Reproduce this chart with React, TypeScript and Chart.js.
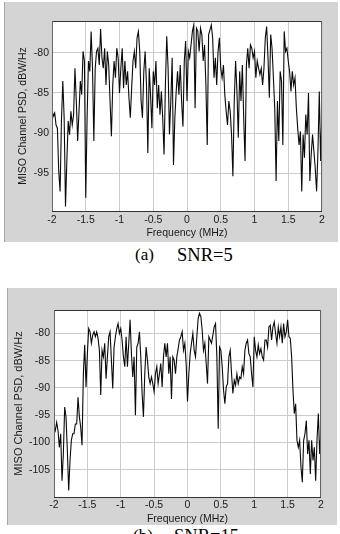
import React, { useEffect, useRef } from "react";
import { Chart, registerables } from "chart.js";

Chart.register(...registerables);

// PSD (dBW/Hz) sampled every 0.02 MHz from -2 MHz to 2 MHz
const snr5Psd = [
  -87.1, -87.9, -87.5, -89.0, -89.4, -94.8, -97.3, -88.5, -83.5, -88.1,
  -99.2, -93.5, -88.5, -90.2, -87.3, -89.0, -87.7, -81.9, -86.0, -91.0,
  -87.3, -83.5, -85.2, -79.8, -81.0, -98.1, -88.1, -81.0, -82.3, -77.3,
  -81.9, -91.0, -81.9, -79.8, -79.4, -81.5, -77.0, -80.6, -81.9, -79.4,
  -84.0, -79.8, -81.5, -86.0, -90.4, -84.0, -81.0, -83.1, -79.4, -80.6,
  -85.0, -81.9, -79.4, -84.4, -81.0, -84.0, -82.3, -85.6, -88.1, -84.4,
  -81.0, -79.8, -81.9, -78.1, -77.3, -79.8, -86.0, -88.1, -82.3, -79.8,
  -84.0, -92.5, -81.9, -85.2, -89.4, -82.3, -84.0, -81.0, -86.9, -84.0,
  -87.7, -84.8, -88.1, -92.7, -84.0, -77.9, -81.9, -90.2, -86.0, -80.6,
  -94.0, -88.1, -84.8, -82.3, -85.2, -81.5, -86.0, -89.2, -81.0, -78.5,
  -86.0, -79.8, -80.6, -79.0, -77.3, -76.5, -86.9, -76.9, -77.3, -79.8,
  -76.9, -77.7, -81.0, -79.0, -84.0, -91.5, -77.7, -77.1, -76.5, -78.1,
  -83.1, -80.6, -84.0, -79.8, -78.1, -81.9, -83.1, -81.5, -85.2, -87.3,
  -89.0, -86.0, -87.3, -90.2, -95.4, -86.0, -81.0, -84.8, -90.6, -82.3,
  -86.0, -81.5, -88.1, -93.5, -81.5, -79.4, -81.9, -79.0, -79.4, -80.6,
  -79.8, -83.1, -81.0, -81.9, -82.7, -81.9, -84.0, -81.9, -78.1, -76.7,
  -80.6, -85.6, -77.7, -79.4, -83.1, -86.9, -96.0, -86.0, -91.0, -82.3,
  -83.5, -91.5, -77.3, -79.8, -79.4, -81.0, -82.3, -84.8, -82.3, -84.0,
  -83.1, -86.9, -89.4, -91.5, -89.8, -97.3, -90.2, -93.1, -87.7, -90.2,
  -85.0, -96.0, -92.7, -90.2, -92.3, -94.4, -97.3, -92.3, -84.8, -93.5,
  -87.0,
];

const snr15Psd = [
  -96.9, -97.8, -96.3, -97.8, -100.9, -98.4, -107.0, -102.1, -93.5, -95.3,
  -101.5, -108.8, -103.3, -99.6, -98.4, -98.4, -96.6, -96.6, -91.7, -95.3,
  -97.2, -100.5, -87.4, -82.1, -89.8, -83.7, -79.1, -79.7, -81.8, -80.3,
  -79.7, -80.6, -79.7, -80.9, -83.1, -91.3, -83.1, -84.3, -81.8, -88.3,
  -84.3, -80.6, -79.7, -84.9, -90.1, -82.5, -80.6, -79.1, -78.2, -80.0,
  -79.1, -81.2, -84.3, -86.1, -80.6, -86.1, -81.8, -77.5, -83.7, -88.0,
  -84.3, -95.0, -82.5, -81.8, -79.7, -84.3, -91.0, -95.3, -87.4, -82.5,
  -84.9, -88.0, -89.2, -88.0, -89.2, -90.7, -87.4, -86.1, -89.2, -87.4,
  -85.5, -89.8, -84.3, -81.8, -84.3, -81.8, -87.4, -84.3, -92.0, -84.3,
  -84.9, -87.4, -84.3, -82.8, -81.2, -80.6, -79.7, -83.1, -81.8, -85.5,
  -92.5, -87.4, -83.7, -81.8, -80.0, -83.1, -84.3, -80.6, -77.2, -76.3,
  -76.9, -79.4, -83.1, -81.8, -85.5, -89.2, -80.6, -81.2, -81.8, -80.3,
  -78.8, -78.2, -84.3, -97.5, -82.5, -83.1, -86.1, -90.4, -92.9, -89.8,
  -89.2, -84.3, -83.1, -87.4, -91.0, -88.6, -89.5, -87.4, -89.2, -88.0,
  -88.3, -86.1, -87.4, -83.1, -81.8, -81.2, -83.7, -84.3, -87.4, -89.8,
  -80.6, -83.1, -84.3, -82.1, -83.7, -82.8, -84.3, -84.9, -81.2, -81.2,
  -82.5, -78.8, -78.5, -81.2, -78.8, -77.9, -80.0, -81.8, -78.8, -80.6,
  -78.8, -81.8, -78.2, -80.6, -79.7, -77.5, -80.6, -80.9, -84.3, -90.4,
  -94.7, -92.9, -99.6, -100.9, -99.6, -104.5, -107.3, -99.6, -98.4, -96.0,
  -102.1, -99.6, -105.8, -99.6, -103.3, -100.9, -107.0, -99.6, -94.7, -102.1,
  -97.8,
];

const freqStartMHz = -2;
const freqStepMHz = 0.02;
const xTickValues = [-2, -1.5, -1, -0.5, 0, 0.5, 1, 1.5, 2];
const yTicksA = [-95, -90, -85, -80];
const yTicksB = [-105, -100, -95, -90, -85, -80];

const xTitle = "Frequency (MHz)";
const yTitle = "MISO Channel PSD, dBW/Hz";

const FONT = "'Liberation Sans', Arial, sans-serif";
const PANEL = "#d4d4d4";

const framePlugin = {
  id: "frame",
  beforeDraw(chart: any) {
    const { ctx, chartArea: a } = chart;
    ctx.save();
    ctx.fillStyle = "#ffffff";
    ctx.fillRect(a.left, a.top, a.right - a.left, a.bottom - a.top);
    ctx.restore();
  },
  afterDraw(chart: any) {
    const { ctx, chartArea: a } = chart;
    ctx.save();
    ctx.lineWidth = 1;
    ctx.strokeStyle = "#333333";
    ctx.beginPath();
    ctx.moveTo(a.left, Math.round(a.top) + 0.5);
    ctx.lineTo(a.right, Math.round(a.top) + 0.5);
    ctx.moveTo(a.left, Math.round(a.bottom) + 0.5);
    ctx.lineTo(a.right, Math.round(a.bottom) + 0.5);
    ctx.stroke();
    ctx.strokeStyle = "#666666";
    ctx.beginPath();
    ctx.moveTo(Math.round(a.left) + 0.5, a.top);
    ctx.lineTo(Math.round(a.left) + 0.5, a.bottom);
    ctx.moveTo(Math.round(a.right) - 0.5, a.top);
    ctx.lineTo(Math.round(a.right) - 0.5, a.bottom);
    ctx.stroke();
    ctx.restore();
  },
};

type P = {
  psd: number[];
  yMin: number;
  yMax: number;
  yTicks: number[];
  width: number;
  height: number;
  padTop: number;
  padRight: number;
  yAxisWidth: number;
  xAxisHeight: number;
  yTitleSize: number;
  yTitlePad: number;
  yTickPad: number;
  xTickPad: number;
  xTitlePadBottom: number;
};

function PsdChart(p: P) {
  const ref = useRef<HTMLCanvasElement | null>(null);
  useEffect(() => {
    if (!ref.current) return;
    const points = p.psd.map((v, i) => ({ x: freqStartMHz + i * freqStepMHz, y: v }));
    const chart = new Chart(ref.current, {
      type: "line",
      data: {
        datasets: [
          {
            data: points,
            borderColor: "#0a0a0a",
            borderWidth: 1.1,
            pointRadius: 0,
            tension: 0,
            fill: false,
          },
        ],
      },
      options: {
        animation: false,
        responsive: false,
        maintainAspectRatio: false,
        events: [],
        layout: { padding: { top: p.padTop, right: p.padRight, left: 0, bottom: 0 } },
        plugins: { legend: { display: false }, tooltip: { enabled: false } },
        scales: {
          x: {
            type: "linear",
            min: -2,
            max: 2,
            afterBuildTicks: (s: any) => {
              s.ticks = xTickValues.map((v) => ({ value: v }));
            },
            afterFit: (s: any) => {
              s.height = p.xAxisHeight;
            },
            ticks: {
              autoSkip: false,
              maxRotation: 0,
              padding: p.xTickPad,
              color: "#1a1a1a",
              font: { family: FONT, size: 10.5 },
              callback: (v: any) => String(Number(v)),
            },
            grid: { color: "#cccccc", lineWidth: 1, drawTicks: false },
            border: { display: false },
            title: {
              display: true,
              text: xTitle,
              color: "#1a1a1a",
              font: { family: FONT, size: 10.5 },
              padding: { top: 0, bottom: p.xTitlePadBottom },
            },
          },
          y: {
            type: "linear",
            min: p.yMin,
            max: p.yMax,
            afterBuildTicks: (s: any) => {
              s.ticks = p.yTicks.map((v) => ({ value: v }));
            },
            afterFit: (s: any) => {
              s.width = p.yAxisWidth;
            },
            ticks: {
              autoSkip: false,
              padding: p.yTickPad,
              color: "#1a1a1a",
              font: { family: FONT, size: 10.5 },
              callback: (v: any) => String(Number(v)),
            },
            grid: { color: "#cccccc", lineWidth: 1, drawTicks: false },
            border: { display: false },
            title: {
              display: true,
              text: yTitle,
              color: "#1a1a1a",
              font: { family: FONT, size: p.yTitleSize },
              padding: { top: p.yTitlePad, bottom: 0 },
            },
          },
        },
      },
      plugins: [framePlugin],
    } as any);
    return () => chart.destroy();
  }, []);
  return (
    <canvas
      ref={ref}
      width={p.width}
      height={p.height}
      style={{ display: "block", width: p.width, height: p.height, background: PANEL }}
    />
  );
}

const capStyle: React.CSSProperties = {
  position: "absolute",
  fontFamily: "'Liberation Serif', 'Times New Roman', serif",
  fontSize: 17,
  lineHeight: "18px",
  color: "#000",
  whiteSpace: "nowrap",
};
const capBig: React.CSSProperties = { ...capStyle, fontSize: 18.5 };

export default function App() {
  return (
    <div style={{ position: "absolute", left: 0, top: 0, width: 340, height: 534, background: "#fff", overflow: "hidden" }}>
      <div style={{ position: "absolute", left: 4, top: 2, borderLeft: "1px solid #a8a8a8" }}>
        <PsdChart
          psd={snr5Psd}
          yMin={-99.75}
          yMax={-76}
          yTicks={yTicksA}
          width={333}
          height={240}
          padTop={19}
          padRight={16}
          yAxisWidth={47}
          xAxisHeight={31}
          yTitleSize={10.5}
          yTitlePad={11.5}
          yTickPad={3}
          xTickPad={2.7}
          xTitlePadBottom={2.7}
        />
      </div>
      <span style={{ ...capStyle, left: 135, top: 246 }}>(a)</span>
      <span style={{ ...capBig, left: 177, top: 246 }}>SNR=5</span>

      <div style={{ position: "absolute", left: 7, top: 288, borderLeft: "1px solid #a8a8a8" }}>
        <PsdChart
          psd={snr15Psd}
          yMin={-110}
          yMax={-75.7}
          yTicks={yTicksB}
          width={329}
          height={237}
          padTop={22}
          padRight={16}
          yAxisWidth={46}
          xAxisHeight={28}
          yTitleSize={11}
          yTitlePad={4}
          yTickPad={4}
          xTickPad={1.7}
          xTitlePadBottom={0}
        />
      </div>
      <span style={{ ...capStyle, left: 133, top: 527 }}>(b)</span>
      <span style={{ ...capBig, left: 174, top: 527 }}>SNR=15</span>
    </div>
  );
}
